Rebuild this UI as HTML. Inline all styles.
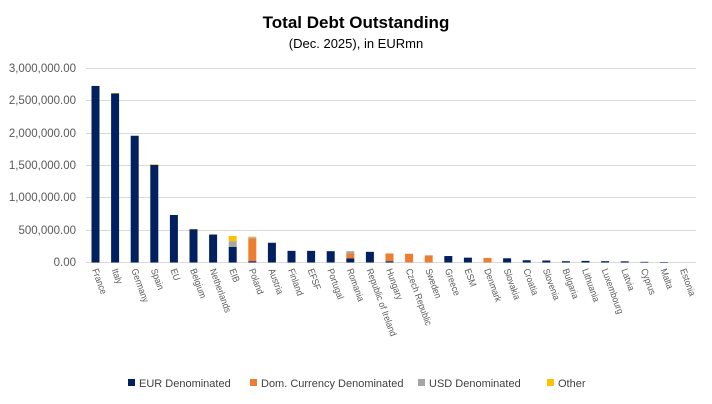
<!DOCTYPE html>
<html><head><meta charset="utf-8"><style>
body{margin:0;background:#fff;}
svg{display:block;font-family:"Liberation Sans",sans-serif;}
</style></head><body>
<svg id="s" width="712" height="404" xmlns="http://www.w3.org/2000/svg">
<rect x="0" y="0" width="712" height="404" fill="#fff"/>
<text x="356" y="28" text-anchor="middle" font-size="17" font-weight="bold" fill="#000">Total Debt Outstanding</text>
<text x="356" y="48" text-anchor="middle" font-size="13" fill="#000">(Dec. 2025), in EURmn</text>
<g stroke="#d9d9d9" stroke-width="1">
<line x1="86" x2="696" y1="68.5" y2="68.5"/><line x1="86" x2="696" y1="100.5" y2="100.5"/>
<line x1="86" x2="696" y1="133.5" y2="133.5"/><line x1="86" x2="696" y1="165.5" y2="165.5"/>
<line x1="86" x2="696" y1="197.5" y2="197.5"/><line x1="86" x2="696" y1="230.5" y2="230.5"/>
<line x1="86" x2="696" y1="262.5" y2="262.5"/></g>
<g font-size="11.5" fill="#595959" text-anchor="end">
<text x="76" y="72">3,000,000.00</text><text x="76" y="104">2,500,000.00</text>
<text x="76" y="137">2,000,000.00</text><text x="76" y="169">1,500,000.00</text>
<text x="76" y="201">1,000,000.00</text><text x="76" y="234">500,000.00</text>
<text x="76" y="266">0.00</text></g>
<g id="bars"></g>
<g font-size="9.5" fill="#595959">
<text transform="translate(92,270) rotate(70) scale(0.9,1)">France</text>
<text transform="translate(111.6,270) rotate(70) scale(0.9,1)">Italy</text>
<text transform="translate(131.2,270) rotate(70) scale(0.9,1)">Germany</text>
<text transform="translate(150.8,270) rotate(70) scale(0.9,1)">Spain</text>
<text transform="translate(170.4,270) rotate(70) scale(0.9,1)">EU</text>
<text transform="translate(190,270) rotate(70) scale(0.9,1)">Belgium</text>
<text transform="translate(209.6,270) rotate(70) scale(0.9,1)">Netherlands</text>
<text transform="translate(229.2,270) rotate(70) scale(0.9,1)">EIB</text>
<text transform="translate(248.8,270) rotate(70) scale(0.9,1)">Poland</text>
<text transform="translate(268.4,270) rotate(70) scale(0.9,1)">Austria</text>
<text transform="translate(288,270) rotate(70) scale(0.9,1)">Finland</text>
<text transform="translate(307.6,270) rotate(70) scale(0.9,1)">EFSF</text>
<text transform="translate(327.2,270) rotate(70) scale(0.9,1)">Portugal</text>
<text transform="translate(346.8,270) rotate(70) scale(0.9,1)">Romania</text>
<text transform="translate(366.4,270) rotate(70) scale(0.9,1)">Republic of Ireland</text>
<text transform="translate(386,270) rotate(70) scale(0.9,1)">Hungary</text>
<text transform="translate(405.6,270) rotate(70) scale(0.9,1)">Czech Republic</text>
<text transform="translate(425.2,270) rotate(70) scale(0.9,1)">Sweden</text>
<text transform="translate(444.8,270) rotate(70) scale(0.9,1)">Greece</text>
<text transform="translate(464.4,270) rotate(70) scale(0.9,1)">ESM</text>
<text transform="translate(484,270) rotate(70) scale(0.9,1)">Denmark</text>
<text transform="translate(503.6,270) rotate(70) scale(0.9,1)">Slovakia</text>
<text transform="translate(523.2,270) rotate(70) scale(0.9,1)">Croatia</text>
<text transform="translate(542.8,270) rotate(70) scale(0.9,1)">Slovenia</text>
<text transform="translate(562.4,270) rotate(70) scale(0.9,1)">Bulgaria</text>
<text transform="translate(582,270) rotate(70) scale(0.9,1)">Lithuania</text>
<text transform="translate(601.6,270) rotate(70) scale(0.9,1)">Luxembourg</text>
<text transform="translate(621.2,270) rotate(70) scale(0.9,1)">Latvia</text>
<text transform="translate(640.8,270) rotate(70) scale(0.9,1)">Cyprus</text>
<text transform="translate(660.4,270) rotate(70) scale(0.9,1)">Malta</text>
<text transform="translate(680,270) rotate(70) scale(0.9,1)">Estonia</text>
</g>
<g font-size="11" fill="#404040">
<rect x="128" y="379" width="7" height="7" fill="#002060"/><text x="139" y="387">EUR Denominated</text>
<rect x="250" y="379" width="7" height="7" fill="#ED7D31"/><text x="261" y="387">Dom. Currency Denominated</text>
<rect x="418" y="379" width="7" height="7" fill="#A5A5A5"/><text x="429" y="387">USD Denominated</text>
<rect x="547" y="379" width="7" height="7" fill="#FFC000"/><text x="558" y="387">Other</text>
</g>
</svg>
<script>
var d=[[2.73,0,0,0],[2.615,0,0,.005],[1.96,0,0,0],[1.51,0,0,.01],[.735,0,0,0],[.515,0,0,.005],[.43,0,.01,0],[.24,0,.09,.08],[.02,.35,.02,.01],[.305,0,.005,0],[.18,0,0,0],[.18,0,0,0],[.175,0,0,0],[.065,.075,.035,0],[.165,0,0,0],[.02,.12,0,0],[0,.135,0,0],[0,.11,0,0],[.1,0,0,0],[.075,0,0,0],[0,.07,0,0],[.065,0,0,0],[.035,0,0,0],[.03,0,.002,.003],[.02,0,0,0],[.025,0,0,0],[.02,0,0,0],[.018,0,0,0],[.01,0,0,0],[.008,0,0,0],[0,0,0,0]];
var c=["#002060","#ED7D31","#A5A5A5","#FFC000"],g=document.getElementById("bars"),h="";
d.forEach(function(v,i){var x=95.5+i*19.6-4,y=262.5;for(var k=0;k<4;k++){var hh=v[k]*64.67;if(hh>0){y-=hh;h+='<rect x="'+x+'" y="'+y+'" width="8" height="'+hh+'" fill="'+c[k]+'"/>';}}});
g.innerHTML=h;
</script>
</body></html>
